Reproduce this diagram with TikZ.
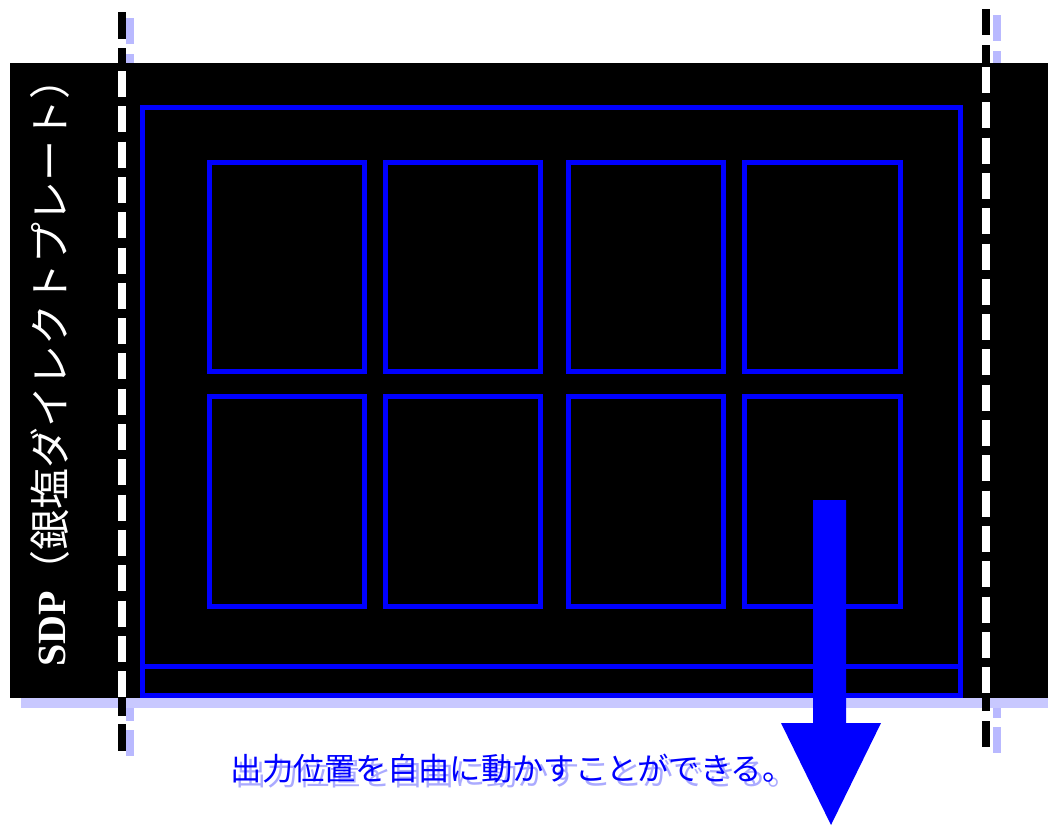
\documentclass[tikz,border=0pt]{standalone}
\usepackage{fontspec}
\newfontfamily\jpfont{Noto Sans CJK JP}
\newfontfamily\serifl{Liberation Serif}
\definecolor{bandlav}{RGB}{200,200,255}
\definecolor{dashlav}{RGB}{185,185,255}
\definecolor{txtlav}{RGB}{170,170,255}
\definecolor{pureblue}{RGB}{0,0,255}
\begin{document}
\begin{tikzpicture}[x={(1pt,0pt)},y={(0pt,-1pt)},
  dashseg/.style={line width=8pt},
  bluebox/.style={draw=pureblue,line width=5pt},
  captxt/.style={anchor=base west,inner sep=0pt,font=\jpfont\fontsize{31.3}{31.3}\selectfont}]
\useasboundingbox (0,0) rectangle (1048,825);
% shadow dashes
\draw[dashseg,dashlav] (130,18)--(130,44) (130,54)--(130,63) (130,708)--(130,721) (130,730)--(130,756);
\draw[dashseg,dashlav] (997,15)--(997,41) (997,51)--(997,63) (997,708)--(997,718) (997,727)--(997,753);
% plate shadow and plate
\fill[bandlav] (21,697) rectangle (1048,708);
\fill[black] (10,63) rectangle (1048,698);
% black dashes outside plate
\draw[dashseg,black] (122,12)--(122,39) (122,48)--(122,63) (122,698)--(122,716) (122,724)--(122,751);
\draw[dashseg,black] (986,9)--(986,35) (986,45)--(986,63) (986,698)--(986,711) (986,721)--(986,747);
% white dashes inside plate
\draw[white,line width=8pt,dash pattern=on 26pt off 9.3pt] (122,71)--(122,697.5);
\draw[white,line width=8pt,dash pattern=on 26pt off 9.3pt] (986,67)--(986,693.5);
% outer blue frame
\draw[bluebox] (142.5,107.5) rectangle (960.5,695.5);
\draw[bluebox] (142.5,666.5)--(960.5,666.5);
% inner blue boxes
\foreach \xa/\xb in {209.8/364.2, 385.8/540.8, 568.5/723.5, 744.8/900.2}{
  \foreach \ya/\yb in {162/371.8, 396/606.5}{
    \draw[bluebox] (\xa,\ya) rectangle (\xb,\yb);
  }
}
% arrow
\fill[pureblue] (813,500) -- (846,500) -- (846,723) -- (881,723) -- (831,825) -- (781,723) -- (813,723) -- cycle;
% caption
\node[captxt,text=txtlav] (capshadow) at (235.5,785) {出力位置を自由に動かすことができる。};
\node[captxt,text=pureblue] (caption) at (230.5,780) {出力位置を自由に動かすことができる。};
% vertical label
\node[rotate=90,anchor=west,inner sep=0pt,text=white] (sdp) at (50,667)
  {{\serifl\bfseries\fontsize{40}{40}\selectfont SDP}{\jpfont\fontsize{41}{41}\selectfont （銀塩ダイレクトプレート）}};
\end{tikzpicture}
\end{document}
